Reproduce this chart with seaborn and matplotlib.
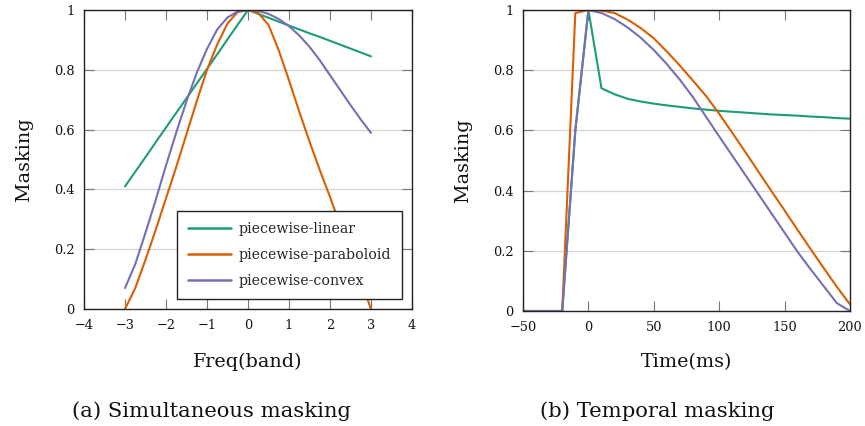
import numpy as np
import pandas as pd
import matplotlib
matplotlib.use("Agg")
import matplotlib.pyplot as plt
import seaborn as sns

# ---------------- data ----------------
series_names = ["piecewise-linear", "piecewise-paraboloid", "piecewise-convex"]
series_colors = ["#1b9e77", "#d95f02", "#7570b3"]

freq = [-3.0, -2.75, -2.5, -2.25, -2.0, -1.75, -1.5, -1.25, -1.0, -0.75, -0.5, -0.25,
        0.0, 0.25, 0.5, 0.75, 1.0, 1.25, 1.5, 1.75, 2.0, 2.25, 2.5, 2.75, 3.0]
freq_linear = [0.41, 0.459, 0.508, 0.558, 0.607, 0.656, 0.705, 0.754, 0.803, 0.852, 0.902, 0.951,
               1.0, 0.987, 0.974, 0.961, 0.948, 0.935, 0.922, 0.910, 0.897, 0.884, 0.871, 0.858, 0.845]
freq_paraboloid = [0.0, 0.07, 0.165, 0.265, 0.37, 0.475, 0.585, 0.695, 0.80, 0.885, 0.955, 0.993,
                   1.0, 0.99, 0.95, 0.865, 0.765, 0.66, 0.56, 0.465, 0.375, 0.28, 0.19, 0.095, 0.0]
freq_convex = [0.07, 0.15, 0.255, 0.365, 0.48, 0.59, 0.695, 0.79, 0.87, 0.935, 0.975, 0.995,
               1.0, 0.997, 0.987, 0.970, 0.946, 0.915, 0.877, 0.832, 0.782, 0.732, 0.682, 0.634, 0.589]

time_ms = [-50, -40, -30, -20, -10, 0, 10, 20, 30, 40, 50, 60, 70, 80, 90, 100,
           110, 120, 130, 140, 150, 160, 170, 180, 190, 200]
time_linear = [0, 0, 0, 0, 0.6, 1.0, 0.74, 0.72, 0.705, 0.696, 0.689, 0.683, 0.678, 0.673, 0.669,
               0.665, 0.662, 0.659, 0.656, 0.653, 0.651, 0.649, 0.646, 0.644, 0.641, 0.639]
time_paraboloid = [0, 0, 0, 0, 0.99, 1.0, 0.998, 0.99, 0.968, 0.94, 0.906, 0.862, 0.815, 0.765, 0.714,
                   0.655, 0.592, 0.528, 0.463, 0.398, 0.334, 0.269, 0.205, 0.142, 0.08, 0.022]
time_convex = [0, 0, 0, 0, 0.6, 1.0, 0.99, 0.97, 0.942, 0.908, 0.867, 0.82, 0.768, 0.71, 0.645,
               0.58, 0.516, 0.452, 0.388, 0.324, 0.26, 0.196, 0.138, 0.082, 0.026, 0.0]

freq_ticks = [-4, -3, -2, -1, 0, 1, 2, 3, 4]
time_ticks = [-50, 0, 50, 100, 150, 200]
masking_ticks = [0, 0.2, 0.4, 0.6, 0.8, 1.0]
masking_tick_labels = ["0", "0.2", "0.4", "0.6", "0.8", "1"]

xlabel_left = "Freq(band)"
xlabel_right = "Time(ms)"
ylabel = "Masking"
caption_left = "(a) Simultaneous masking"
caption_right = "(b) Temporal masking"

# ---------------- frames ----------------
def long_frame(x, ys):
    rows = []
    for name, vals in zip(series_names, ys):
        for xv, yv in zip(x, vals):
            rows.append({"x": xv, "y": yv, "series": name})
    return pd.DataFrame(rows)

df_freq = long_frame(freq, [freq_linear, freq_paraboloid, freq_convex])
df_time = long_frame(time_ms, [time_linear, time_paraboloid, time_convex])
palette = dict(zip(series_names, series_colors))

# ---------------- style ----------------
sns.set_theme(style="white")
plt.rcParams["font.family"] = ["DejaVu Serif", "DejaVu Sans"]
plt.rcParams["axes.unicode_minus"] = True

W, H = 865, 426
fig = plt.figure(figsize=(W / 100, H / 100), dpi=100)

def px_axes(x0, y0, x1, y1):
    return fig.add_axes([x0 / W, 1 - y1 / H, (x1 - x0) / W, (y1 - y0) / H])

axL = px_axes(84, 10, 412, 309)
axR = px_axes(523, 10, 850, 311)

sns.lineplot(data=df_freq, x="x", y="y", hue="series", hue_order=series_names,
             palette=palette, ax=axL, lw=1.5, sort=False, estimator=None, legend=True)
sns.lineplot(data=df_time, x="x", y="y", hue="series", hue_order=series_names,
             palette=palette, ax=axR, lw=1.5, sort=False, estimator=None, legend=False)

def style_axes(ax, xlim, xticks, xlabel, xlab_y):
    ax.set_xlim(*xlim)
    ax.set_ylim(0, 1)
    ax.set_xticks(xticks)
    ax.set_yticks(masking_ticks)
    ax.set_yticklabels(masking_tick_labels)
    ax.grid(axis="y", color="#d4d4d4", lw=0.9)
    ax.grid(axis="x", visible=False)
    ax.set_axisbelow(True)
    for s in ax.spines.values():
        s.set_color("#222222")
        s.set_linewidth(1.0)
    ax.tick_params(axis="both", which="major", direction="in", length=7, width=0.8,
                   color="#777777", labelsize=9.3, labelcolor="#111111",
                   top=True, right=True, bottom=True, left=True)
    ax.tick_params(axis="x", pad=7)
    ax.tick_params(axis="y", pad=7)
    ax.set_xlabel(xlabel, fontsize=13.8, color="#111111")
    ax.set_ylabel(ylabel, fontsize=13.8, color="#111111")
    ax.xaxis.label.set_va("center")
    ax.xaxis.set_label_coords(0.5, xlab_y)
    ax.yaxis.label.set_va("center")
    ax.yaxis.label.set_ha("center")
    ax.yaxis.set_label_coords(-0.182, 0.5)

style_axes(axL, (-4, 4), freq_ticks, xlabel_left, -0.177)
style_axes(axR, (-50, 200), time_ticks, xlabel_right, -0.169)

sns.move_legend(axL, "lower right", bbox_to_anchor=((401.7 - 84) / 328, 10 / 299),
                borderaxespad=0, title=None, frameon=True, fancybox=False,
                edgecolor="#222222", framealpha=1, fontsize=10.2,
                handlelength=3.1, handletextpad=0.5, labelspacing=0.87, borderpad=0.75)
leg = axL.get_legend()
leg.get_frame().set_linewidth(1.0)
for line in leg.get_lines():
    line.set_linewidth(1.8)

fig.text(212 / W, 1 - 411 / H, caption_left, ha="center", va="center", fontsize=15.2, color="#111111")
fig.text(657 / W, 1 - 411 / H, caption_right, ha="center", va="center", fontsize=15.2, color="#111111")

fig.savefig("out.png", dpi=100)
